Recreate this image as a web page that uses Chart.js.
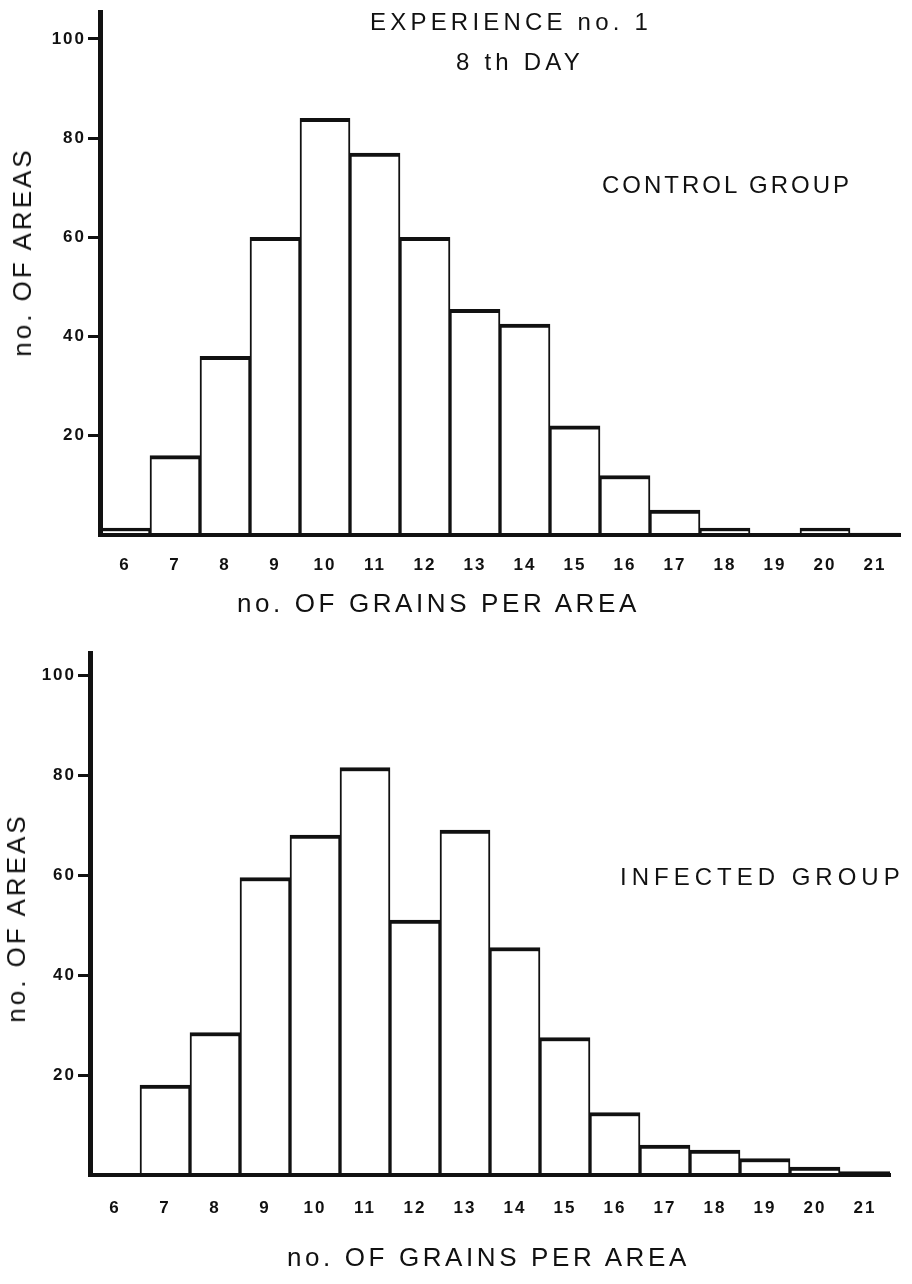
<!DOCTYPE html>
<html>
<head>
<meta charset="utf-8">
<title>Experience no. 1 - 8th day</title>
<script src="https://cdn.jsdelivr.net/npm/chart.js@4.4.1/dist/chart.umd.min.js"></script>
<style>
  html, body { margin: 0; padding: 0; background: #fff; }
  #page {
    position: relative; width: 912px; height: 1284px; overflow: hidden;
    font-family: "Liberation Sans", Arial, sans-serif; color: #111;
  }
  .box { position: absolute; left: 0; width: 912px; }
  #boxTop { top: 0; height: 640px; }
  #boxBottom { top: 640px; height: 644px; }
  .lbl { position: absolute; white-space: nowrap; line-height: 1; font-size: 24px; }
  .ctr { transform: translateX(-50%); }
  .rot { transform: translate(-50%, -50%) rotate(-90deg); }
</style>
</head>
<body>
<div id="page">
  <div class="box" id="boxTop"><canvas id="chartTop" width="912" height="640"></canvas></div>
  <div class="box" id="boxBottom"><canvas id="chartBottom" width="912" height="644"></canvas></div>

  <div class="lbl ctr" style="left:511px; top:10px; letter-spacing:4.2px;">EXPERIENCE no. 1</div>
  <div class="lbl ctr" style="left:520px; top:50px; letter-spacing:4.2px;">8 th DAY</div>
  <div class="lbl" style="left:602px; top:173px; letter-spacing:3px;">CONTROL GROUP</div>
  <div class="lbl" style="left:620px; top:865px; letter-spacing:5px;">INFECTED GROUP</div>

  <div class="lbl" style="left:237px; top:590px; font-size:26px; letter-spacing:3.6px;">no. OF GRAINS PER AREA</div>
  <div class="lbl" style="left:287px; top:1244px; font-size:26px; letter-spacing:3.6px;">no. OF GRAINS PER AREA</div>

  <div class="lbl rot" style="left:22px; top:252px; font-size:26px; letter-spacing:3px;">no. OF AREAS</div>
  <div class="lbl rot" style="left:16px; top:918px; font-size:26px; letter-spacing:3px;">no. OF AREAS</div>
</div>

<script>
// grains per area (x categories)
const grains = ['6', '7', '8', '9', '10', '11', '12', '13', '14', '15', '16', '17', '18', '19', '20', '21'];

// no. of areas
const controlAreas  = [1.4, 16, 36, 60, 84, 77, 60, 45.5, 42.5, 22, 12, 5, 1.4, 0, 1.4, 0.4];
const infectedAreas = [0, 18, 28.5, 59.5, 68, 81.5, 51, 69, 45.5, 27.5, 12.5, 6, 5, 3.3, 1.6, 0.7];

const yTicks = [20, 40, 60, 80, 100];

const INK = '#111';
const FONT = '"Liberation Sans", Arial, sans-serif';

// spaced-out lettering for the tick numbers
const spacing = {
    id: 'spacing',
    beforeDraw(chart) { chart.ctx.letterSpacing = '2px'; }
};

function makeChart(canvasId, values, opts) {
    return new Chart(document.getElementById(canvasId), {
        type: 'bar',
        data: {
            labels: grains,
            datasets: [{
                data: values,
                backgroundColor: '#fff',
                borderColor: INK,
                borderWidth: { top: 4, left: 2, right: 2, bottom: 0 },
                borderSkipped: 'start',
                barPercentage: 1,
                categoryPercentage: 1
            }]
        },
        options: {
            responsive: false,
            animation: false,
            layout: { padding: { top: opts.padTop, right: opts.padRight, left: 0, bottom: 0 } },
            plugins: {
                legend: { display: false },
                tooltip: { enabled: false }
            },
            scales: {
                x: {
                    afterFit: s => { s.height = opts.xHeight; },
                    grid: { display: false, drawTicks: false },
                    border: { display: true, width: 4, color: INK, z: 1 },
                    ticks: {
                        color: INK,
                        autoSkip: false,
                        maxRotation: 0,
                        padding: opts.xPad,
                        font: { family: FONT, size: 17, weight: 'bold' }
                    }
                },
                y: {
                    min: 0,
                    max: opts.yMax,
                    afterFit: s => { s.width = opts.yWidth; },
                    afterBuildTicks: s => { s.ticks = yTicks.map(v => ({ value: v })); },
                    grid: {
                        drawOnChartArea: false,
                        drawTicks: true,
                        tickLength: 12,
                        lineWidth: 3,
                        color: INK
                    },
                    border: { display: true, width: 5, color: INK, z: 1 },
                    ticks: {
                        color: INK,
                        padding: 2,
                        font: { family: FONT, size: 17, weight: 'bold' }
                    }
                }
            }
        },
        plugins: [spacing]
    });
}

makeChart('chartTop', controlAreas, {
    padTop: 5, padRight: 12, xHeight: 105, yWidth: 100, yMax: 105.4, xPad: 20
});

makeChart('chartBottom', infectedAreas, {
    padTop: 13, padRight: 22, xHeight: 109, yWidth: 90, yMax: 104.4, xPad: 23
});
</script>
</body>
</html>
